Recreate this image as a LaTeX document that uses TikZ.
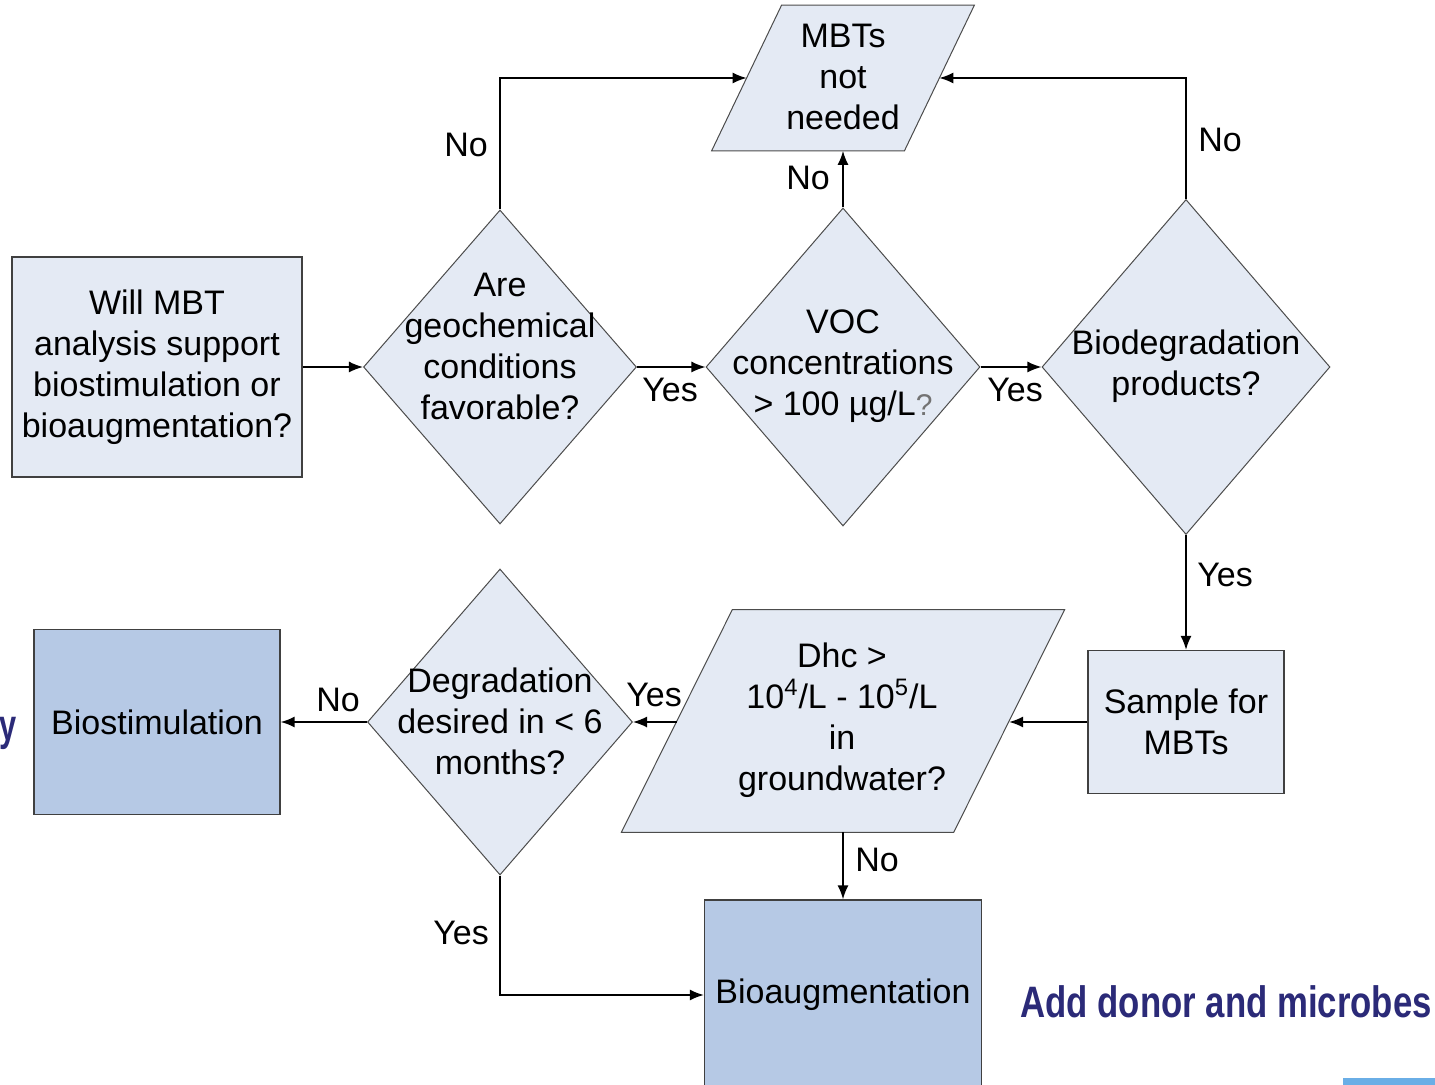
\documentclass[tikz,border=0pt]{standalone}
\usepackage{fontspec}
\setmainfont{Liberation Sans}
\usetikzlibrary{shapes.geometric,arrows.meta}
\definecolor{boxfill}{HTML}{E4EAF4}
\definecolor{actfill}{HTML}{B6C9E5}
\definecolor{navy}{HTML}{2B2A78}
\definecolor{barblue}{HTML}{6AAEE6}
\begin{document}
\begin{tikzpicture}[x=0.5pt,y=-0.5pt,
  font=\fontsize{17}{20.5}\selectfont,
  box/.style={draw=black!75, line width=0.7pt, fill=boxfill, inner sep=0pt, align=center},
  actbox/.style={box, fill=actfill},
  decision/.style={diamond, draw=black!70, line width=0.5pt, fill=boxfill, inner sep=0pt},
  io/.style={rectangle, inner sep=0pt},
  ioline/.style={draw=black!70, line width=0.5pt, fill=boxfill},
  txt/.style={align=center, inner sep=0pt},
  lbl/.style={inner sep=0pt},
  arr/.style={-{Latex[length=7pt,width=5.5pt]}, line width=0.75pt},
  navytxt/.style={inner sep=0pt, text=navy, font=\fontsize{22}{26}\selectfont\bfseries}]
\useasboundingbox (0,0) rectangle (1435,1085);

% Top row
\node[box, minimum width=145pt, minimum height=110pt] (start) at (157,367)
  {Will MBT\\analysis support\\biostimulation or\\bioaugmentation?};
\node[decision, minimum width=136.5pt, minimum height=157pt] (geo) at (500,367) {};
\node[txt] (geo-t) at (500,346) {Are\\geochemical\\conditions\\favorable?};
\node[decision, minimum width=137pt, minimum height=159pt] (voc) at (843,367) {};
\node[txt] (voc-t) at (843,366) {VOC\\concentrations\\> 100 µg/L{\color{black!55}\fontsize{15}{20}\selectfont ?}};
\node[decision, minimum width=144pt, minimum height=167.5pt] (bio) at (1186,367) {};
\node[txt] (bio-t) at (1186,366) {Biodegradation\\products?};
% parallelogram: node box is its mid-line, sides drawn slanted
\node[io, minimum width=96pt, minimum height=72.5pt] (mbt) at (843,78) {};
\draw[ioline] ([xshift=-17.5pt]mbt.south west) -- ([xshift=17.5pt]mbt.north west)
  -- ([xshift=17.5pt]mbt.north east) -- ([xshift=-17.5pt]mbt.south east) -- cycle;
\node[txt] (mbt-t) at (843,77) {MBTs\\not\\needed};

% Bottom row
\node[box, minimum width=98pt, minimum height=71.5pt] (sample) at (1186,722) {Sample for\\MBTs};
\node[io, minimum width=165.75pt, minimum height=111pt] (dhc) at (843,721) {};
\draw[ioline] ([xshift=-27.75pt]dhc.south west) -- ([xshift=27.75pt]dhc.north west)
  -- ([xshift=27.75pt]dhc.north east) -- ([xshift=-27.75pt]dhc.south east) -- cycle;
\node[txt] (dhc-t) at (842,720) {Dhc >\\10\textsuperscript{4}/L - 10\textsuperscript{5}/L\\in\\groundwater?};
\node[decision, minimum width=132.5pt, minimum height=153pt] (deg) at (500,722) {};
\node[txt] (deg-t) at (500,721) {Degradation\\desired in < 6\\months?};
\node[actbox, minimum width=123pt, minimum height=92.5pt] (biostim) at (157,722) {Biostimulation};
\node[actbox, minimum width=138.5pt, minimum height=95pt] (bioaug) at (843,995) {Bioaugmentation};

% Connectors
\draw[arr] (start) -- (geo);
\draw[arr] (geo) -- (voc);
\draw[arr] (voc) -- (bio);
\draw[arr] (geo.north) |- (mbt);
\draw[arr] (voc.north) -- (mbt);
\draw[arr] (bio.north) |- (mbt);
\draw[arr] (bio) -- (sample);
\draw[arr] (sample.west) -- (sample.west -| dhc.east);
\draw[arr] (deg.east -| dhc.west) -- (deg.east);
\draw[arr] (deg) -- (biostim);
\draw[arr] (dhc) -- (bioaug);
\draw[arr] (deg.south) |- (bioaug);

% Yes / No labels
\node[lbl] (no-geo) at (466,145) {No};
\node[lbl] (no-voc) at (808,178) {No};
\node[lbl] (no-bio) at (1220,140) {No};
\node[lbl] (yes-geo) at (670,390) {Yes};
\node[lbl] (yes-voc) at (1015,390) {Yes};
\node[lbl] (yes-bio) at (1225,575) {Yes};
\node[lbl] (yes-dhc) at (654,695) {Yes};
\node[lbl] (no-deg) at (338,700) {No};
\node[lbl] (no-dhc) at (877,860) {No};
\node[lbl] (yes-deg) at (461,933) {Yes};

% Slide leftovers
\node[navytxt, anchor=west] (cutword) at (-1,733) {\scalebox{0.7}[1]{y}};
\node[navytxt, anchor=west] (donor) at (1020,1002) {\scalebox{0.79}[1]{Add donor and microbes}};
\fill[barblue] (1343,1078) rectangle (1435,1085);
\end{tikzpicture}
\end{document}
